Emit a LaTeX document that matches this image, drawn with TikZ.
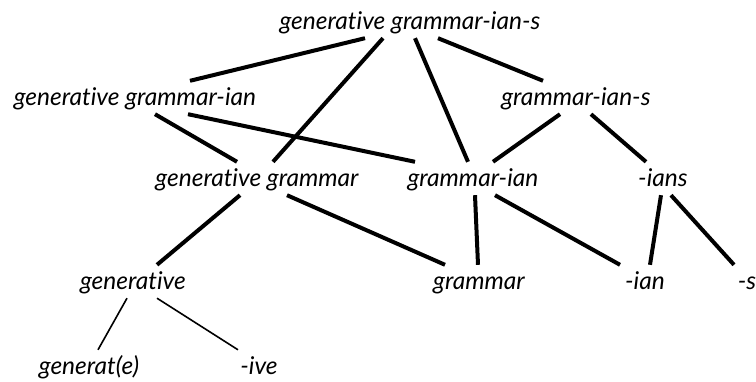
\documentclass[tikz,border=0pt]{standalone}
\usepackage{fontspec}
\setmainfont[Ligatures=NoCommon]{Lato}
\begin{document}
\begin{tikzpicture}[x=1pt,y=-1pt,
  lbl/.style={anchor=base, inner xsep=0pt, inner ysep=8pt, text height=17pt, text depth=0pt,
    font=\itshape\fontsize{24.5}{28}\selectfont},
  thk/.style={line width=4pt},
  thn/.style={line width=1.6pt}]
\useasboundingbox (0,0) rectangle (756,382);
\node[lbl] (top) at (410,30) {generative grammar-ian-s};
\node[lbl] (gga) at (135,106) {generative grammar-ian};
\node[lbl] (gis) at (576,106) {grammar-ian-s};
\node[lbl] (gg) at (257,187) {generative grammar};
\node[lbl] (gi) at (473,187) {grammar-ian};
\node[lbl] (ians) at (663,187) {-ians};
\node[lbl] (gen) at (133,290) {generative};
\node[lbl] (gram) at (479,290) {grammar};
\node[lbl] (ian) at (645,290) {-ian};
\node[lbl] (s) at (747,290) {-s};
\node[lbl] (generat) at (89,375) {generat(e)};
\node[lbl] (ive) at (259,375) {-ive};
\draw[thk] ([xshift=-45pt]top.south) -- ([xshift=55pt]gga.north);
\draw[thk] ([xshift=-27pt]top.south) -- ([xshift=16pt]gg.north);
\draw[thk] ([xshift=5pt]top.south) -- ([xshift=-5pt]gi.north);
\draw[thk] ([xshift=28pt]top.south) -- ([xshift=-33pt]gis.north);
\draw[thk] ([xshift=-16pt]gis.south) -- ([xshift=20pt]gi.north);
\draw[thk] ([xshift=15pt]gis.south) -- ([xshift=-17pt]ians.north);
\draw[thk] ([xshift=20pt]gga.south) -- ([xshift=-20pt]gg.north);
\draw[thk] ([xshift=53pt]gga.south) -- ([xshift=-58pt]gi.north);
\draw[thk] ([xshift=-17pt]gg.south) -- ([xshift=24pt]gen.north);
\draw[thk] ([xshift=30pt]gg.south) -- ([xshift=-34pt]gram.north);
\draw[thk] ([xshift=2pt]gi.south) -- ([xshift=-1pt]gram.north);
\draw[thk] ([xshift=22pt]gi.south) -- ([xshift=-25pt]ian.north);
\draw[thk] ([xshift=-2pt]ians.south) -- ([xshift=5pt]ian.north);
\draw[thk] ([xshift=8pt]ians.south) -- ([xshift=-13pt]s.north);
\draw[thn] ([xshift=-6pt]gen.south) -- ([xshift=9pt]generat.north);
\draw[thn] ([xshift=24pt]gen.south) -- ([xshift=-21pt]ive.north);
\end{tikzpicture}
\end{document}
